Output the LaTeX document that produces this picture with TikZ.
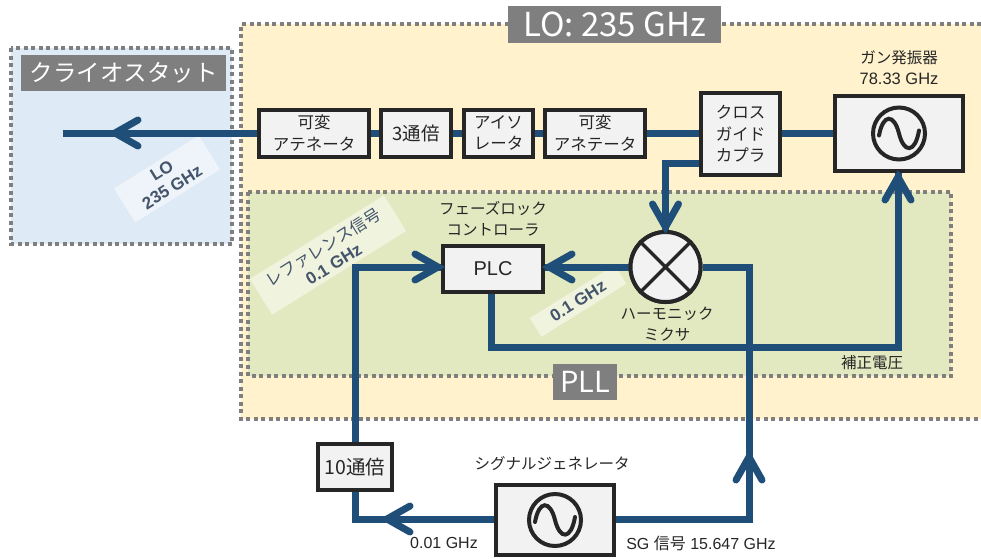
\documentclass[tikz,border=0pt]{standalone}
\usepackage{fontspec}
\setmainfont{Liberation Sans}
\newfontfamily\cjk{Noto Sans CJK JP}
\usetikzlibrary{calc}
\definecolor{navy}{HTML}{1F4E79}
\definecolor{ink}{HTML}{262626}
\definecolor{dotgray}{HTML}{7F7F7F}
\definecolor{lofill}{HTML}{FFF2CC}
\definecolor{pllfill}{HTML}{E2E9C0}
\definecolor{cryofill}{HTML}{DEEAF6}
\definecolor{boxfill}{HTML}{F2F2F2}
\definecolor{tagtext}{HTML}{44546A}
\tikzset{
  x=1pt,y=-1pt,
  dotline/.style={draw=dotgray,line width=4pt,dash pattern=on 4pt off 3.5pt},
  title/.style={fill=dotgray,text=white,inner sep=0pt,font=\cjk\fontsize{23.5}{28}\selectfont},
  stagebox/.style={draw=ink,line width=4pt,fill=boxfill,inner sep=0pt,align=center,text=ink,font=\cjk\fontsize{16.5}{21.5}\selectfont},
  ringnode/.style={circle,draw=ink,line width=4pt,fill=boxfill,inner sep=0pt},
  wire/.style={draw=navy,line width=7pt,line join=miter},
  note/.style={inner sep=0pt,align=center,text=ink,font=\cjk\fontsize{15.5}{21}\selectfont},
  tag/.style={rotate=32,fill=white,fill opacity=.5,text opacity=1,inner sep=0pt,align=center,text=tagtext,font=\bfseries\fontsize{17}{19.5}\selectfont},
  chev/.pic={\draw[draw=navy,line width=7pt,line cap=round,line join=miter] (23,-13)--(0,0)--(23,13);},
  wave/.pic={\draw[draw=ink,line width=4pt,line cap=round] (-20,2) .. controls (-16,-20) and (-5,-20) .. (0,0) .. controls (5,20) and (16,20) .. (20,-3);}
}
\begin{document}
\begin{tikzpicture}
\useasboundingbox (0,0) rectangle (981,558);
% regions
\fill[cryofill] (11,48) rectangle (232,244);
\draw[dotline] (11,48) rectangle (232,244);
\fill[lofill] (241,24) rectangle (981,419);
\draw[dotline] (981,24) -- (241,24) -- (241,419) -- (981,419);
\fill[pllfill] (248,192) rectangle (951,376);
\draw[dotline] (248,192) rectangle (951,376);
% tags
\node[tag,minimum width=100pt,minimum height=40pt] (tagLO) at (167,179) {LO\\235 GHz};
\node[tag,minimum width=158pt,minimum height=42pt] (tagRef) at (328,255) {{\cjk\mdseries\fontsize{16.5}{19.5}\selectfont レファレンス信号}\\0.1 GHz};
\node[tag,minimum width=100pt,minimum height=22pt] (tagIF) at (578,301) {0.1 GHz};
% blocks
\node[stagebox,minimum width=110pt,minimum height=47pt] (att1) at (314,133) {可変\\アテネータ};
\node[stagebox,minimum width=70pt,minimum height=47pt,font=\cjk\fontsize{18.5}{21.5}\selectfont] (tri) at (416,133) {3通倍};
\node[stagebox,minimum width=69pt,minimum height=47pt] (iso) at (498.5,133) {アイソ\\レータ};
\node[stagebox,minimum width=100pt,minimum height=47pt] (att2) at (595,133) {可変\\アネテータ};
\node[stagebox,minimum width=79pt,minimum height=82pt] (cgc) at (740.5,134) {クロス\\ガイド\\カプラ};
\node[stagebox,minimum width=128pt,minimum height=75pt] (gunn) at (899,133.5) {};
\node[stagebox,minimum width=100pt,minimum height=46pt,font=\fontsize{20}{22}\selectfont] (plc) at (493,269) {PLC};
\node[stagebox,minimum width=74pt,minimum height=46pt,font=\cjk\fontsize{19.5}{22}\selectfont] (mul) at (355,467) {10通倍};
\node[stagebox,minimum width=118pt,minimum height=70pt] (sg) at (555,520) {};
% coordinates
\coordinate (cryoEnd) at (63,133);
\coordinate (cgcOut) at (665.5,163);
\coordinate (mixCorner) at (749,267);
\coordinate (sgCorner) at (749,519);
\coordinate (fbA) at (491,347);
\coordinate (fbB) at (898,347);
\coordinate (refA) at (355,519);
\coordinate (refB) at (355,267);
% wires
\draw[wire] (cryoEnd) -- (att1.west |- cryoEnd);
\draw[wire] (att1.east) -- (tri.west);
\draw[wire] (tri.east) -- (iso.west);
\draw[wire] (iso.east) -- (att2.west);
\draw[wire] (att2.east) -- (cgc.west |- att2.east);
\draw[wire] (cgc.east |- gunn.west) -- (gunn.west);
\node[ringnode,minimum size=70pt] (mix) at (665.5,267) {};
\draw[wire] (cgc.west |- cgcOut) -- (cgcOut) -- (mix.north);
\draw[wire] (mix.west) -- (plc.east |- mix.west);
\draw[wire] (mix.east) -- (mixCorner) -- (sgCorner) -- (sg.east |- sgCorner);
\draw[wire] (plc.south -| fbA) -- (fbA) -- (fbB) -- (gunn.south -| fbB);
\draw[wire] (sg.west |- refA) -- (refA) -- (mul.south);
\draw[wire] (mul.north) -- (refB) -- (plc.west |- refB);
% redraw blocks touched by wires
\node[ringnode,minimum size=70pt] (mixTop) at (mix) {};
\draw[draw=ink,line width=3.5pt] (mixTop.45) -- (mixTop.225) (mixTop.135) -- (mixTop.315);
\node[ringnode,minimum size=52pt] (gunnRing) at (899,133.5) {};
\pic at (gunnRing) {wave};
\node[ringnode,minimum size=52pt] (sgRing) at (sg) {};
\pic at (sgRing) {wave};
% arrowheads
\coordinate (tipA) at (115,133);
\coordinate (tipB) at (387,519);
\coordinate (tipC) at (749,457);
\pic at (tipA) {chev};
\pic at (tipB) {chev};
\pic[rotate=-90] at (tipC) {chev};
\pic[rotate=90] at ($(mixTop.north)+(0,-3)$) {chev};
\pic at ($(plc.east |- mix.west)+(4,0)$) {chev};
\pic[rotate=180] at ($(plc.west |- refB)+(-3,0)$) {chev};
\pic[rotate=-90] at ($(gunn.south -| fbB)+(0,4)$) {chev};
% labels
\node[note] (lblGunn) at (899,67.5) {ガン発振器\\{\rmfamily\fontsize{16.5}{21}\selectfont 78.33 GHz}};
\node[note] (lblPLC) at (493,218.5) {フェーズロック\\コントローラ};
\node[note] (lblMix) at (667,324.5) {ハーモニック\\ミクサ};
\node[note] (lblFb) at (872,363) {補正電圧};
\node[note] (lblSG) at (552,464) {シグナルジェネレータ};
\node[note,font=\fontsize{16}{18}\selectfont] (lblLow) at (444,543) {0.01 GHz};
\node[note,font=\fontsize{16}{18}\selectfont] (lblHigh) at (701,543) {SG {\cjk 信号} 15.647 GHz};
% titles
\node[title,minimum width=205pt,minimum height=36pt] (ttlCryo) at (123.5,73) {クライオスタット};
\node[title,minimum width=213pt,minimum height=37pt,font=\cjk\fontsize{33}{36}\selectfont] (ttlLO) at (614.5,24.5) {LO: 235 GHz};
\node[title,minimum width=64pt,minimum height=36pt,font=\cjk\fontsize{29}{32}\selectfont] (ttlPLL) at (585,382) {PLL};
\end{tikzpicture}
\end{document}
